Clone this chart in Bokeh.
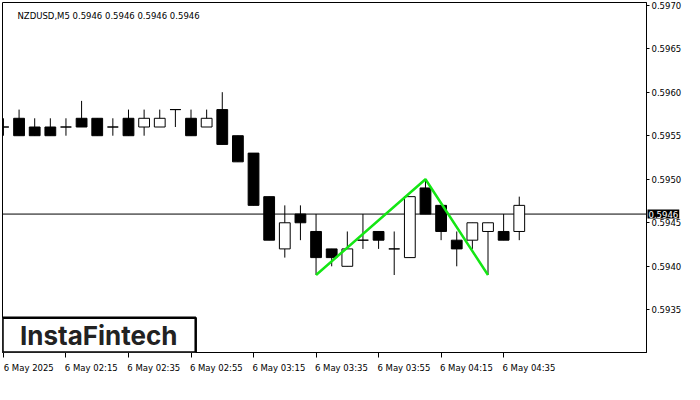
from bokeh.plotting import figure
from bokeh.models import (Range1d, FixedTicker, Span, Label,
                          BoxAnnotation, ColumnDataSource, NumeralTickFormatter)
from bokeh.embed import file_html
from bokeh.resources import INLINE

# ---- data ----
bar_index = list(range(34))
opens  = [0.5956, 0.5957, 0.5956, 0.5956, 0.5956, 0.5957, 0.5957, 0.5956, 0.5957, 0.5956,
          0.5956, 0.5958, 0.5957, 0.5956, 0.5958, 0.5955, 0.5953, 0.5948, 0.5942, 0.5946,
          0.5944, 0.5942, 0.5940, 0.5943, 0.5944, 0.5942, 0.5941, 0.5949, 0.5947, 0.5943,
          0.5943, 0.5944, 0.5944, 0.5944]
highs  = [0.5957, 0.5958, 0.5957, 0.5957, 0.5957, 0.5959, 0.5957, 0.5957, 0.5958, 0.5958,
          0.5958, 0.5958, 0.5958, 0.5958, 0.5960, 0.5955, 0.5953, 0.5948, 0.5947, 0.5947,
          0.5946, 0.5942, 0.5944, 0.5946, 0.5944, 0.5944, 0.5948, 0.5950, 0.5947, 0.5944,
          0.5945, 0.5945, 0.5946, 0.5948]
lows   = [0.5955, 0.5955, 0.5955, 0.5955, 0.5955, 0.5956, 0.5955, 0.5955, 0.5955, 0.5955,
          0.5956, 0.5956, 0.5955, 0.5956, 0.5954, 0.5952, 0.5947, 0.5943, 0.5941, 0.5943,
          0.5939, 0.5940, 0.5940, 0.5942, 0.5942, 0.5939, 0.5941, 0.5946, 0.5943, 0.5940,
          0.5942, 0.5939, 0.5943, 0.5943]
closes = [0.5956, 0.5955, 0.5955, 0.5955, 0.5956, 0.5956, 0.5955, 0.5956, 0.5955, 0.5957,
          0.5957, 0.5958, 0.5955, 0.5957, 0.5954, 0.5952, 0.5947, 0.5943, 0.5945, 0.5945,
          0.5941, 0.5941, 0.5942, 0.5943, 0.5943, 0.5942, 0.5948, 0.5946, 0.5944, 0.5942,
          0.5945, 0.5945, 0.5943, 0.5947]

time_tick_index = [0, 4, 8, 12, 16, 20, 24, 28, 32]
time_tick_labels = ["6 May 2025", "6 May 02:15", "6 May 02:35", "6 May 02:55", "6 May 03:15",
                    "6 May 03:35", "6 May 03:55", "6 May 04:15", "6 May 04:35"]
price_ticks = [0.5935, 0.5940, 0.5945, 0.5950, 0.5955, 0.5960, 0.5965, 0.5970]
current_price = 0.5946
pattern_index = [20, 27, 31]
pattern_price = [0.5939, 0.5950, 0.5939]
title_text = "NZDUSD,M5  0.5946 0.5946 0.5946 0.5946"
logo_text = "InstaFintech"

# ---- figure ----
X0, X1 = -0.06, 41.14
Y0, Y1 = 0.59301, 0.59703
FONT = "DejaVu Sans"
FS = "8.5px"

p = figure(width=684, height=384, output_backend="svg", toolbar_location=None,
           x_range=Range1d(X0, X1), y_range=Range1d(Y0, Y1),
           y_axis_location="right",
           min_border_left=2, min_border_top=2, min_border_right=0, min_border_bottom=0)
p.grid.visible = False
p.outline_line_color = "black"
p.outline_line_width = 1
p.background_fill_color = "white"
p.border_fill_color = "white"

# right price axis
ya = p.yaxis[0]
ya.ticker = FixedTicker(ticks=price_ticks)
ya.formatter = NumeralTickFormatter(format="0.0000")
ya.major_tick_out = 3
ya.major_tick_in = 0
ya.minor_tick_line_color = None
ya.axis_line_color = "black"
ya.major_label_standoff = 2
ya.major_label_text_font = FONT
ya.major_label_text_font_size = FS
ya.major_label_text_color = "black"

# bottom time axis: labels on shifted major ticks (so each starts at its tick),
# the visible tick marks are the minor ticks at the true bar positions
shift = 1.62
shifted = [round(t + shift, 3) for t in time_tick_index]
xa = p.xaxis[0]
xa.ticker = FixedTicker(ticks=shifted, minor_ticks=time_tick_index)
xa.major_label_overrides = {s: lab for s, lab in zip(shifted, time_tick_labels)}
xa.major_tick_line_color = None
xa.major_tick_out = 0
xa.major_tick_in = 0
xa.minor_tick_line_color = "black"
xa.minor_tick_out = 5
xa.minor_tick_in = 0
xa.axis_line_color = "black"
xa.major_label_standoff = 5
xa.major_label_text_font = FONT
xa.major_label_text_font_size = FS
xa.major_label_text_color = "black"

# current price line
p.add_layout(Span(location=current_price, dimension="width", line_color="black",
                  line_width=1, level="underlay"))

# candles
src = ColumnDataSource(dict(
    x=bar_index, o=opens, h=highs, l=lows, c=closes,
    top=[max(o, c) for o, c in zip(opens, closes)],
    bottom=[min(o, c) for o, c in zip(opens, closes)],
    fill=["black" if c < o else "white" for o, c in zip(opens, closes)],
))
p.segment(x0="x", y0="l", x1="x", y1="h", source=src, line_color="black", line_width=1)
p.vbar(x="x", width=0.69, top="top", bottom="bottom", source=src,
       fill_color="fill", line_color="black", line_width=1)

# double-top pattern
p.line(pattern_index, pattern_price, line_color="#14e614", line_width=2.5)

# price tag on the price axis (held in a side panel so it is not clipped to the frame;
# the bottom panel costs less room than the right one)
p.add_layout(Label(x=X1, y=current_price, x_offset=1, text="0.5946",
                   text_align="left", text_baseline="middle", text_color="white",
                   text_font=FONT, text_font_size=FS,
                   background_fill_color="black", background_fill_alpha=1.0,
                   padding=1), "below")

# title
p.add_layout(Label(x=0.9, y=0.59688, text=title_text, text_align="left",
                   text_baseline="middle", text_color="black",
                   text_font=FONT, text_font_size=FS))

# logo
p.add_layout(BoxAnnotation(left=X0, right=12.3, bottom=Y0, top=0.59341,
                           fill_color="white", fill_alpha=1.0,
                           line_color="black", line_width=2.5, line_alpha=1.0,
                           level="overlay"))
p.add_layout(Label(x=6.1, y=0.59321, text=logo_text, text_align="center",
                   text_baseline="middle", text_color="#222222",
                   text_font="Inter", text_font_size="26px", text_font_style="bold",
                   level="overlay"))

open("out.html", "w").write(file_html(p, INLINE))
